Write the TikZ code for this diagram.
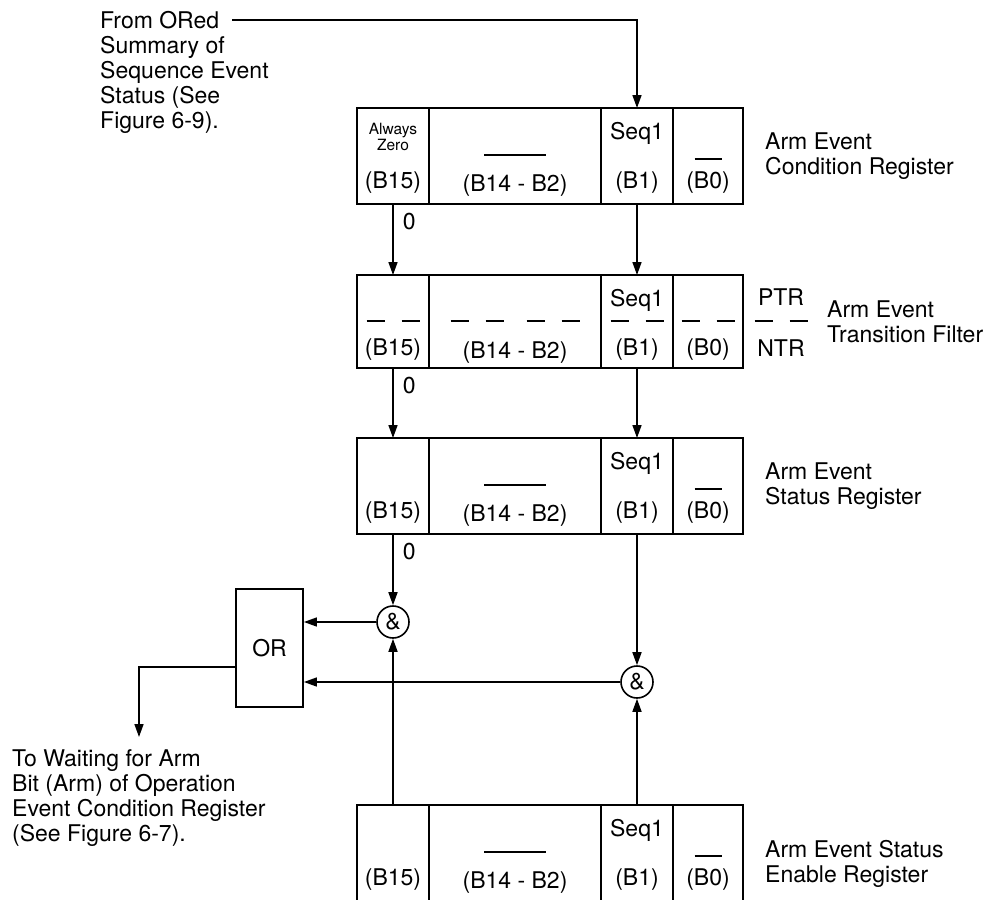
\documentclass[tikz,border=0pt]{standalone}
\usepackage{fontspec}
\setmainfont{TeX Gyre Heros}
\usetikzlibrary{arrows.meta,positioning}

\begin{document}
\begin{tikzpicture}[
    x=1pt, y=-1pt,
    font=\fontsize{23}{25}\selectfont,
    cell/.style={draw, line width=1.8pt, inner sep=0pt, outer sep=0pt},
    bit/.style={inner sep=0pt, text height=16.6pt, text depth=0pt},
    small/.style={font=\fontsize{15.5}{16}\selectfont, align=center, inner sep=0pt},
    lbl/.style={align=left, inner sep=0pt},
    gate/.style={draw, circle, line width=1.6pt, minimum size=32pt, inner sep=0pt},
    arr/.style={->, >={Triangle[length=13pt,width=9pt]}, line width=1.6pt},
    bar/.style={line width=1.8pt},
    dashbar/.style={line width=1.8pt, dash pattern=on 18pt off 17pt},
    zero/.style={anchor=west, inner sep=0pt, xshift=9pt},
  ]
  \useasboundingbox (0,0) rectangle (994,900);
  \clip (0,0) rectangle (994,900);

  % the four registers, bit cells B15 | B14-B2 | B1 | B0
  \foreach \r/\t/\h in {cnd/108/96, ptf/275/93, sts/438/96, ena/805/100} {
    \node[cell, minimum width=72, minimum height=\h, anchor=north west] (\r-a) at (357,\t) {};
    \node[cell, minimum width=172, minimum height=\h, right=0pt of \r-a] (\r-b) {};
    \node[cell, minimum width=72, minimum height=\h, right=0pt of \r-b] (\r-c) {};
    \node[cell, minimum width=70, minimum height=\h, right=0pt of \r-c] (\r-d) {};
    \node[bit] (\r-a-bit) at ([yshift=-72pt]\r-a.north) {(B15)};
    \node[bit] (\r-b-bit) at ([yshift=-75pt]\r-b.north) {(B14 - B2)};
    \node[bit] (\r-c-bit) at ([yshift=-72pt]\r-c.north) {(B1)};
    \node[bit] (\r-d-bit) at ([yshift=-72pt]\r-d.north) {(B0)};
    \node[bit] (\r-seq) at ([yshift=-23pt]\r-c.north) {Seq1};
  }
  \foreach \r in {cnd,sts,ena} {
    \draw[bar] ([xshift=-31pt,yshift=-47pt]\r-b.north) -- ++(62,0);
    \draw[bar] ([xshift=-13.5pt,yshift=-51pt]\r-d.north) -- ++(27,0);
  }
  \node[small] (cnd-zero) at ([yshift=-29pt]cnd-a.north) {Always\\Zero};

  % transition filter dashes
  \foreach \c/\dx in {a/0, b/-38, b/38, c/0, d/0}
    \draw[dashbar] ([xshift={(\dx-26.5)*1pt}, yshift=-46pt]ptf-\c.north) -- ++(53,0);
  \node[bit] (ptr) at (781,297) {PTR};
  \node[bit] (ntr) at (781,348) {NTR};
  \draw[dashbar] (754.5,321) -- ++(53,0);

  % register names
  \node[lbl, right=22pt of cnd-d] (cnd-name) {Arm Event\\Condition Register};
  \node[lbl, right=84pt of ptf-d] (ptf-name) {Arm Event\\Transition Filter};
  \node[lbl, right=22pt of sts-d] (sts-name) {Arm Event\\Status Register};
  \node[lbl, right=22pt of ena-d, yshift=-9pt] (ena-name) {Arm Event Status\\Enable Register};

  % notes
  \node[lbl, anchor=north west] (src) at (100,11.5) {From ORed\\Summary of\\Sequence Event\\Status (See\\Figure 6-9).};
  \node[lbl, anchor=north west] (dest) at (12,749.5) {To Waiting for Arm\\Bit (Arm) of Operation\\Event Condition Register\\(See Figure 6-7).};
  \coordinate (srcTip) at (232,20);
  \coordinate (destTip) at (139,737);

  % gates
  \node[gate] (andA) at (393,622) {\&};
  \node[gate] (andB) at (637,682) {\&};
  \node[draw, line width=1.8pt, minimum width=67, minimum height=118] (orgate) at (269.5,648) {OR};

  \draw[arr] (srcTip) -| (cnd-c.north);
  \draw[arr] (cnd-a.south) -- node[zero, pos=0.25] (z1) {0} (ptf-a.north);
  \draw[arr] (cnd-c.south) -- (ptf-c.north);
  \draw[arr] (ptf-a.south) -- node[zero, pos=0.25] (z2) {0} (sts-a.north);
  \draw[arr] (ptf-c.south) -- (sts-c.north);
  \draw[arr] (sts-a.south) -- node[zero, pos=0.25] (z3) {0} (andA.north);
  \draw[arr] (sts-c.south) -- (andB.north);
  \draw[arr] (ena-a.north) -- (andA.south);
  \draw[arr] (ena-c.north) -- (andB.south);
  \draw[arr] (andA.west) -- (andA.west -| orgate.east);
  \draw[arr] (andB.west) -- (andB.west -| orgate.east);
  \draw[arr] ([yshift=-19pt]orgate.west) -| (destTip);
\end{tikzpicture}
\end{document}
